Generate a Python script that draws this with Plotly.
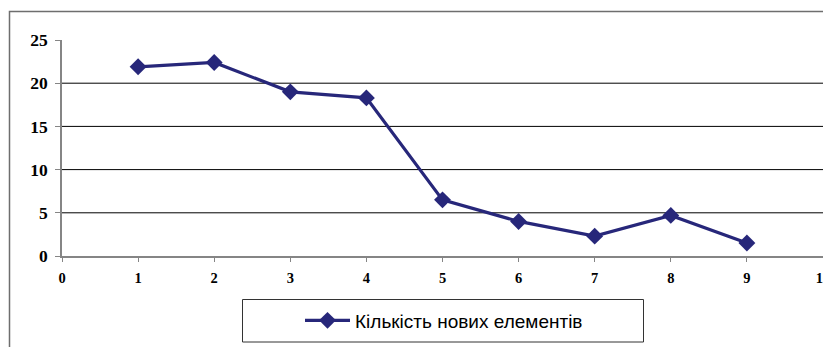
import plotly.graph_objects as go

# Series: number of new elements per step
steps = [1, 2, 3, 4, 5, 6, 7, 8, 9]
new_elements = [21.9, 22.4, 19.0, 18.3, 6.5, 4.0, 2.3, 4.7, 1.5]
series_name = "Кількість нових елементів"

x_ticks = [0, 1, 2, 3, 4, 5, 6, 7, 8, 9, 10]
y_ticks = [0, 5, 10, 15, 20, 25]
grid_values = [5, 10, 15, 20]

W, H = 823, 347
L, R, T, B = 62, 0, 40, 91
plot_w = W - L - R
plot_h = H - T - B


def px_to_paper_x(px):
    return (px - L) / plot_w


def px_to_paper_y(py):
    return (H - B - py) / plot_h


navy = "#27277a"
axis_grey = "#858585"

fig = go.Figure()
fig.add_trace(go.Scatter(
    x=steps, y=new_elements, name=series_name, mode="lines+markers",
    line=dict(color=navy, width=3.2),
    marker=dict(symbol="diamond", size=13, color=navy),
    showlegend=True,
))

shapes = []
# horizontal grid lines
for g in grid_values:
    shapes.append(dict(type="line", xref="paper", yref="y", x0=0, x1=1, y0=g, y1=g,
                       line=dict(color="black", width=1), layer="below"))
# outer chart frame
shapes.append(dict(type="rect", xref="paper", yref="paper",
                   x0=px_to_paper_x(9.5), x1=px_to_paper_x(840),
                   y0=px_to_paper_y(360), y1=px_to_paper_y(11.5),
                   line=dict(color="#6e6e6e", width=1.5)))
# legend box
shapes.append(dict(type="rect", xref="paper", yref="paper",
                   x0=px_to_paper_x(242.5), x1=px_to_paper_x(643.5),
                   y0=px_to_paper_y(342), y1=px_to_paper_y(299.5),
                   line=dict(color="#333333", width=1)))

fig.update_layout(
    width=W, height=H,
    margin=dict(l=L, r=R, t=T, b=B, autoexpand=False),
    paper_bgcolor="white", plot_bgcolor="white",
    shapes=shapes,
    xaxis=dict(range=[0, 10], tickvals=x_ticks, ticktext=[f"<b>{v}</b>" for v in x_ticks],
               showgrid=False, zeroline=False, showline=True, linecolor=axis_grey, linewidth=1.5,
               ticks="outside", ticklen=4, tickcolor=axis_grey, ticklabelstandoff=4,
               ticklabeloverflow="allow", automargin=False,
               tickfont=dict(family="Liberation Serif", size=14.5, color="black")),
    yaxis=dict(range=[0, 25], tickvals=y_ticks, ticktext=[f"<b>{v}</b>" for v in y_ticks],
               showgrid=False, zeroline=False, showline=True, linecolor=axis_grey, linewidth=1.5,
               ticks="outside", ticklen=5, tickcolor=axis_grey, ticklabelstandoff=4,
               automargin=False,
               tickfont=dict(family="Liberation Serif", size=17.5, color="black")),
    legend=dict(x=px_to_paper_x(300), y=px_to_paper_y(320.5), xanchor="left", yanchor="middle",
                orientation="h", bgcolor="rgba(0,0,0,0)", borderwidth=0, itemwidth=45,
                font=dict(family="Liberation Sans", size=19, color="black")),
)

fig.write_html("out.html")
